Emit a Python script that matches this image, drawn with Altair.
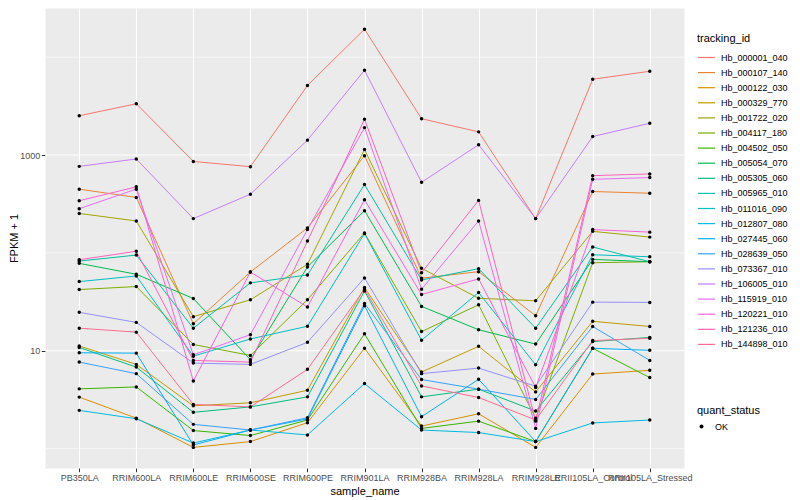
import altair as alt
import pandas as pd

FONT = "Liberation Sans"

samples = ["PB350LA", "RRIM600LA", "RRIM600LE", "RRIM600SE", "RRIM600PE",
           "RRIM901LA", "RRIM928BA", "RRIM928LA", "RRIM928LE",
           "RRII105LA_Control", "RRII105LA_Stressed"]

tracking_ids = ["Hb_000001_040", "Hb_000107_140", "Hb_000122_030", "Hb_000329_770",
                "Hb_001722_020", "Hb_004117_180", "Hb_004502_050", "Hb_005054_070",
                "Hb_005305_060", "Hb_005965_010", "Hb_011016_090", "Hb_012807_080",
                "Hb_027445_060", "Hb_028639_050", "Hb_073367_010", "Hb_106005_010",
                "Hb_115919_010", "Hb_120221_010", "Hb_121236_010", "Hb_144898_010"]

palette = ["#F8766D", "#EA8331", "#D89000", "#C09B00", "#A3A500", "#7CAE00",
           "#39B600", "#00BB4E", "#00BF7D", "#00C1A3", "#00BFC4", "#00BAE0",
           "#00B0F6", "#35A2FF", "#9590FF", "#C77CFF", "#E76BF3", "#FA62DB",
           "#FF62BC", "#FF6C91"]

# FPKM + 1 per sample (order of `samples`)
hb_000001_040 = [2520, 3340, 860, 760, 5140, 19300, 2350, 1725, 224, 5950, 7180]
hb_000107_140 = [448, 369, 18.9, 63.8, 180, 984, 55.1, 64.3, 22.8, 424, 407]
hb_000122_030 = [3.36, 2.05, 1.03, 1.18, 1.84, 10.6, 1.70, 2.27, 1.03, 5.78, 6.31]
hb_000329_770 = [11.2, 7.26, 2.74, 2.94, 3.95, 44.2, 6.06, 11.1, 3.80, 20.0, 17.7]
hb_001722_020 = [253, 212, 22.3, 33.2, 76.4, 1140, 69.6, 34.4, 32.4, 166, 145]
hb_004117_180 = [42.2, 45.3, 11.6, 8.96, 33.2, 160, 15.7, 29.5, 2.04, 79.3, 81.2]
hb_004502_050 = [4.08, 4.27, 1.53, 1.36, 1.96, 14.9, 1.61, 1.91, 1.18, 10.6, 5.32]
hb_005054_070 = [78.2, 60.5, 34.2, 8.11, 71.8, 270, 28.4, 16.4, 11.7, 85.9, 81.2]
hb_005305_060 = [10.8, 6.81, 2.35, 2.67, 3.38, 40.9, 3.38, 4.05, 2.42, 12.4, 13.7]
hb_005965_010 = [82.5, 95, 17.0, 49.4, 59.5, 499, 52.9, 69.0, 17.0, 115, 81.2]
hb_011016_090 = [50.9, 58.1, 8.81, 13.2, 17.8, 158, 12.8, 39.4, 7.18, 95.7, 91.3]
hb_012807_080 = [2.46, 2.02, 1.14, 1.55, 1.38, 4.62, 1.55, 1.46, 1.18, 1.83, 1.96]
hb_027445_060 = [9.54, 9.46, 1.09, 1.55, 2.01, 28.8, 2.12, 5.11, 1.18, 10.6, 10.1]
hb_028639_050 = [7.66, 5.84, 1.77, 1.55, 2.07, 30.4, 5.08, 4.05, 3.18, 17.7, 7.97]
hb_073367_010 = [24.7, 19.5, 7.48, 7.26, 12.2, 55.5, 5.84, 6.65, 4.34, 31.4, 31.2]
hb_106005_010 = [766, 911, 224, 398, 1420, 7350, 527, 1273, 224, 1545, 2113]
hb_115919_010 = [283, 448, 9.1, 14.6, 173, 1906, 42.6, 212, 1.61, 565, 588]
hb_120221_010 = [341, 473, 4.91, 63.8, 28.0, 349, 37.6, 54.2, 4.21, 173, 163]
hb_121236_010 = [85.1, 104, 7.97, 7.66, 132, 2320, 62.8, 344, 1.91, 616, 641]
hb_144898_010 = [17.0, 15.5, 2.83, 2.67, 6.46, 42.6, 4.37, 3.33, 1.96, 12.7, 13.4]

series = [hb_000001_040, hb_000107_140, hb_000122_030, hb_000329_770, hb_001722_020,
          hb_004117_180, hb_004502_050, hb_005054_070, hb_005305_060, hb_005965_010,
          hb_011016_090, hb_012807_080, hb_027445_060, hb_028639_050, hb_073367_010,
          hb_106005_010, hb_115919_010, hb_120221_010, hb_121236_010, hb_144898_010]

y_ticks = [10, 1000]
y_minor = [1, 100, 10000]

rows = []
for tid, vals in zip(tracking_ids, series):
    for s, v in zip(samples, vals):
        rows.append({"tracking_id": tid, "sample_name": s, "value": v, "quant_status": "OK"})
df = pd.DataFrame(rows)

grid_df = pd.DataFrame({"value": y_ticks + y_minor,
                        "kind": ["major"] * len(y_ticks) + ["minor"] * len(y_minor)})

yscale = alt.Scale(type="log", domain=[0.634, 31800], nice=False, zero=False)
y_axis = alt.Axis(values=y_ticks, format="d", grid=False, domain=False,
                  tickColor="#333333", tickSize=3.7, tickWidth=1,
                  labelColor="#4D4D4D", labelFontSize=9, labelFont=FONT, labelPadding=1.5,
                  titleFont=FONT, titleFontSize=11, titleColor="black",
                  titleFontWeight="normal", titleX=-26, titleY=230, titleAngle=270,
                  titleAlign="center", titleBaseline="bottom")
y_enc = alt.Y("value:Q", scale=yscale, axis=y_axis, title="FPKM + 1")

x_axis = alt.Axis(labelAngle=0, grid=True, gridColor="white", gridWidth=1.1,
                  domain=False, tickColor="#333333", tickSize=3.7, tickWidth=1,
                  labelColor="#4D4D4D", labelFontSize=9, labelFont=FONT,
                  labelOverlap=False, labelBound=False, labelFlush=False, labelPadding=2,
                  titleFont=FONT, titleFontSize=11, titleColor="black",
                  titleFontWeight="normal", titlePadding=3)
x_enc = alt.X("sample_name:N", sort=samples,
              scale=alt.Scale(type="point", padding=0.6), axis=x_axis, title="sample_name")

grid = alt.Chart(grid_df).mark_rule(color="white").encode(
    y=y_enc,
    strokeWidth=alt.StrokeWidth("kind:N", scale=alt.Scale(domain=["major", "minor"], range=[1.1, 0.6]),
                                legend=None),
)

lines = alt.Chart(df).mark_line(strokeWidth=1).encode(
    x=x_enc,
    y=y_enc,
    color=alt.Color("tracking_id:N", scale=alt.Scale(domain=tracking_ids, range=palette),
                    legend=alt.Legend(title="tracking_id", orient="none", legendX=652, legendY=25,
                                      symbolType="stroke", symbolSize=289, symbolStrokeWidth=1.2,
                                      labelFontSize=9, labelFont=FONT, labelColor="black",
                                      labelOffset=5, rowPadding=0.1, padding=0,
                                      titleFont=FONT, titleFontSize=11, titleColor="black",
                                      titleFontWeight="normal", titlePadding=4)),
)

points = alt.Chart(df).mark_point(filled=True, size=12, opacity=1).encode(
    x=x_enc,
    y=y_enc,
    color=alt.value("black"),
    shape=alt.Shape("quant_status:N", scale=alt.Scale(range=["circle"]),
                    legend=alt.Legend(title="quant_status", orient="none", legendX=652, legendY=397,
                                      symbolSize=16, symbolFillColor="black", symbolStrokeColor="black",
                                      labelFontSize=9, labelFont=FONT, labelColor="black",
                                      labelOffset=9, padding=0,
                                      titleFont=FONT, titleFontSize=11, titleColor="black",
                                      titleFontWeight="normal", titlePadding=6)),
)

chart = alt.layer(grid, lines, points).properties(
    width=639, height=460,
    autosize=alt.AutoSizeParams(type="none"),
    padding={"left": 37, "top": 0, "right": 108, "bottom": 32},
).configure_view(fill="#EBEBEB", stroke="transparent")

chart.save("out.html", embed_options={"renderer": "svg", "actions": False})
